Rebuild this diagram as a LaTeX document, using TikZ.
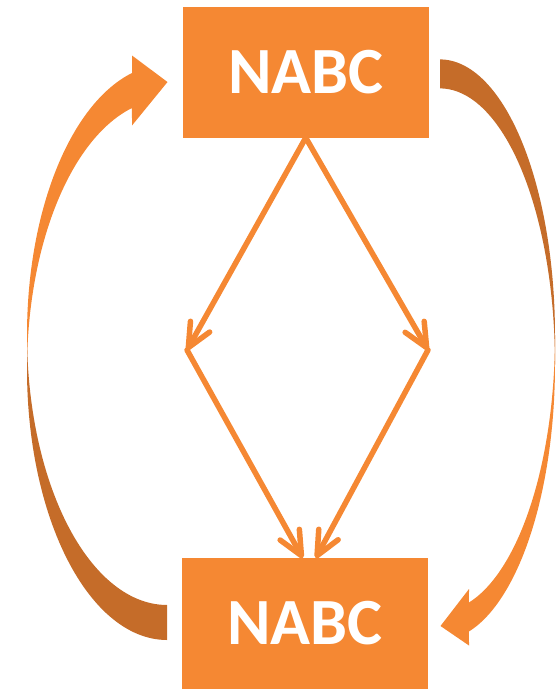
\documentclass[tikz,border=0pt]{standalone}
\usepackage{fontspec}
\setmainfont{Carlito}
\usetikzlibrary{arrows.meta}
\definecolor{accent}{RGB}{245,136,51}
\definecolor{accentdark}{RGB}{197,108,41}
\begin{document}
\begin{tikzpicture}[x=1pt,y=-1pt,
  box/.style={fill=accent, minimum width=245.5pt, minimum height=130.5pt,
    inner sep=0pt, text=white, font=\fontsize{66}{66}\selectfont\bfseries},
  flow/.style={draw=accent, line width=5.5pt, line cap=round,
    -{Straight Barb[length=24pt,width=22pt,line cap=round,line join=round]}},
  backface/.style={fill=accentdark},
  frontface/.style={fill=accent}]
\useasboundingbox (0,0) rectangle (556,689);

% boxes
\node[box] (top) at (305.75,72.25) {NABC};
\node[box] (bot) at (304.75,623.5) {NABC};

% branching points of the diamond
\coordinate (cl) at (187,350);
\coordinate (cr) at (428,350);

\draw[flow] (top.south) -- (cl);
\draw[flow] (top.south) -- (cr);
\draw[flow] (cl) -- ([xshift=-2pt]bot.north);
\draw[flow] (cr) -- ([xshift=11pt]bot.north);

% left twisted arrow: two ellipses shifted vertically by the band thickness
\path[backface]
  plot[domain=90:180,samples=60] ({167+140*cos(\x)},{369.7+270.3*sin(\x)})
  -- plot[domain=180:90,samples=60] ({167+140*cos(\x)},{334.7+270.3*sin(\x)})
  -- cycle;
\path[frontface]
  plot[domain=180:255.52,samples=60] ({167+140*cos(\x)},{334.7+270.3*sin(\x)})
  -- (132,55.5) -- (167.5,82) -- (132,125.5)
  -- plot[domain=255.52:180,samples=60] ({167+140*cos(\x)},{369.7+270.3*sin(\x)})
  -- cycle;

% right twisted arrow
\path[backface]
  plot[domain=270:360,samples=60] ({440+115*cos(\x)},{335.4+276*sin(\x)})
  -- plot[domain=360:270,samples=60] ({440+115*cos(\x)},{364.4+276*sin(\x)})
  -- cycle;
\path[frontface]
  plot[domain=0:75.4,samples=60] ({440+115*cos(\x)},{364.4+276*sin(\x)})
  -- (469,645.5) -- (440.5,626) -- (469,589)
  -- plot[domain=75.4:0,samples=60] ({440+115*cos(\x)},{335.4+276*sin(\x)})
  -- cycle;
\end{tikzpicture}
\end{document}
